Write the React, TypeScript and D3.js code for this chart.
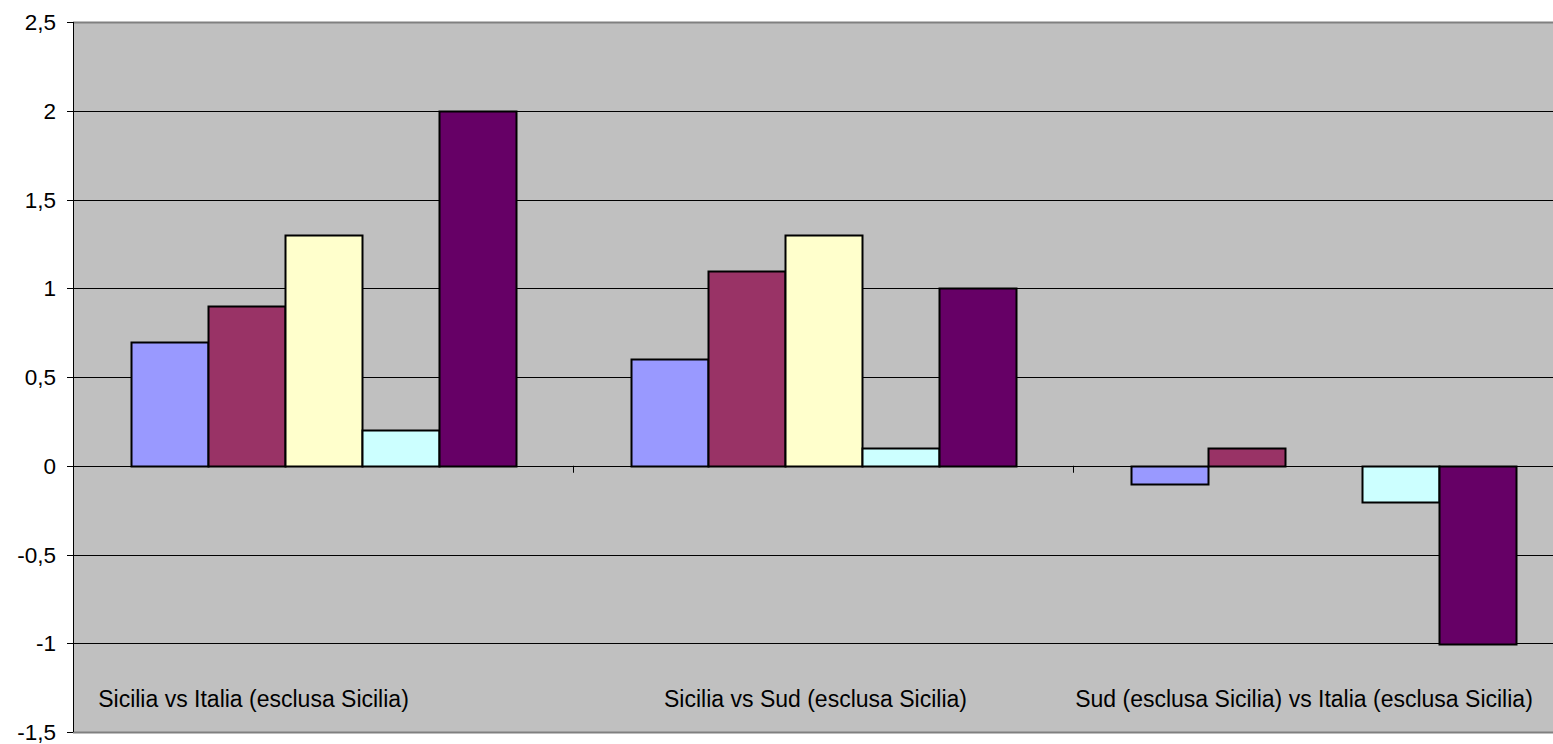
import React from "react";
import * as d3 from "d3";

const categories = [
  "Sicilia vs Italia (esclusa Sicilia)",
  "Sicilia vs Sud (esclusa Sicilia)",
  "Sud (esclusa Sicilia) vs Italia (esclusa Sicilia)",
];
const seriesNames = ["Serie 1", "Serie 2", "Serie 3", "Serie 4", "Serie 5"];
const serie1 = [0.7, 0.6, -0.1];
const serie2 = [0.9, 1.1, 0.1];
const serie3 = [1.3, 1.3, 0];
const serie4 = [0.2, 0.1, -0.2];
const serie5 = [2.0, 1.0, -1.0];
const yTicks = [-1.5, -1, -0.5, 0, 0.5, 1, 1.5, 2, 2.5];

const seriesValues = [serie1, serie2, serie3, serie4, serie5];
const colors = ["#9999FF", "#993366", "#FFFFCC", "#CCFFFF", "#660066"];
const labelOffsets = [-69.5, -7.5, -19];

const W = 1553;
const H = 744;
const left = 73;
const right = 1573;
const top = 22;
const bottom = 732;

export default function App() {
  const x0 = d3.scaleBand<string>().domain(categories).range([left, right]).paddingInner(0).paddingOuter(0);
  const bw = x0.bandwidth();
  const x1 = d3
    .scaleBand<string>()
    .domain(seriesNames)
    .range([bw * 0.115, bw * 0.885])
    .padding(0);
  const y = d3.scaleLinear().domain([-1.5, 2.5]).range([bottom, top]);
  const fmt = (v: number) => String(v).replace(".", ",");
  const font = "'Liberation Sans', Arial, sans-serif";

  return (
    <svg
      width={W}
      height={H}
      style={{ position: "absolute", left: 0, top: 0, display: "block" }}
      fontFamily={font}
    >
      <rect x={0} y={0} width={W} height={H} fill="#fff" />
      <rect x={left} y={top} width={right - left} height={bottom - top} fill="#C0C0C0" />
      {yTicks.map((t) => (
        <g key={t}>
          {t !== -1.5 && t !== 2.5 && (
            <line x1={left} x2={right} y1={Math.round(y(t)) + 0.5} y2={Math.round(y(t)) + 0.5} stroke="#000" strokeWidth={1} />
          )}
          <line x1={left - 6} x2={left} y1={Math.round(y(t)) + 0.5} y2={Math.round(y(t)) + 0.5} stroke="#000" />
          <text x={56} y={y(t) + 8} textAnchor="end" fontSize={22.5} fill="#000">
            {fmt(t)}
          </text>
        </g>
      ))}
      <line x1={left} x2={right} y1={top + 0.5} y2={top + 0.5} stroke="#808080" strokeWidth={2} />
      <line x1={left} x2={right} y1={bottom + 0.5} y2={bottom + 0.5} stroke="#808080" strokeWidth={2} />
      {categories.map((c, ci) =>
        seriesValues.map((vals, si) => {
          const v = vals[ci];
          if (v === 0) return null;
          const xx = (x0(c) as number) + (x1(seriesNames[si]) as number);
          const y0 = y(0);
          const yv = y(v);
          return (
            <rect
              key={`${ci}-${si}`}
              x={Math.round(xx) + 0.5}
              y={Math.round(Math.min(y0, yv)) + 0.5}
              width={Math.round(x1.bandwidth())}
              height={Math.round(Math.abs(yv - y0))}
              fill={colors[si]}
              stroke="#000"
              strokeWidth={2}
            />
          );
        })
      )}
      <line x1={left} x2={right} y1={Math.round(y(0)) + 0.5} y2={Math.round(y(0)) + 0.5} stroke="#000" />
      {categories.slice(1).map((c) => (
        <line
          key={c}
          x1={Math.round(x0(c) as number) + 0.5}
          x2={Math.round(x0(c) as number) + 0.5}
          y1={y(0)}
          y2={y(0) + 7}
          stroke="#000"
        />
      ))}
      <line x1={left + 0.5} x2={left + 0.5} y1={top} y2={bottom} stroke="#000" />
      {categories.map((c, i) => (
        <text
          key={c}
          x={(x0(c) as number) + bw / 2 + labelOffsets[i]}
          y={707}
          textAnchor="middle"
          fontSize={23}
          fill="#000"
        >
          {c}
        </text>
      ))}
    </svg>
  );
}
